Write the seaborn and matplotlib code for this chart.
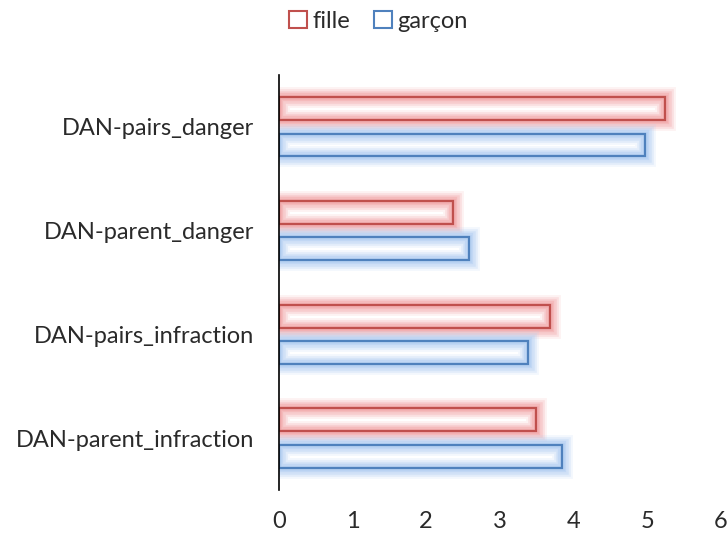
import pandas as pd
import seaborn as sns
import matplotlib.pyplot as plt
import matplotlib.patheffects as pe
from matplotlib.patches import Patch

# --- données ---
categories = ['DAN-pairs_danger', 'DAN-parent_danger', 'DAN-pairs_infraction', 'DAN-parent_infraction']
fille = [5.24, 2.37, 3.68, 3.49]
garcon = [4.97, 2.58, 3.39, 3.85]
groups = ['fille', 'garçon']

df = pd.DataFrame({
    'item': categories * 2,
    'score': fille + garcon,
    'sexe': ['fille'] * 4 + ['garçon'] * 4,
})

edge_cols = {'fille': '#C0504D', 'garçon': '#4F81BD'}
glow_cols = {'fille': '#F2A9AB', 'garçon': '#B3CFF2'}

sns.set_style('white')
plt.rcParams['font.family'] = ['Lato', 'DejaVu Sans']

fig = plt.figure(figsize=(7.28, 5.36), dpi=100)
ax = fig.add_axes([0.383, 0.086, 0.607, 0.774])

sns.barplot(data=df, y='item', x='score', hue='sexe', order=categories,
            hue_order=groups, orient='h', width=0.70, gap=0.37,
            palette={'fille': 'white', 'garçon': 'white'}, legend=False, ax=ax)

# bordure + halo (face transparente pour voir le halo intérieur)
for container, g in zip(ax.containers, groups):
    for bar in container:
        bar.set_facecolor('none')
        bar.set_edgecolor(edge_cols[g])
        bar.set_linewidth(1.6)
        bar.set_path_effects([
            pe.Stroke(linewidth=15, foreground=glow_cols[g], alpha=0.15),
            pe.Stroke(linewidth=12, foreground=glow_cols[g], alpha=0.25),
            pe.Stroke(linewidth=9, foreground=glow_cols[g], alpha=0.35),
            pe.Stroke(linewidth=6, foreground=glow_cols[g], alpha=0.5),
            pe.Stroke(linewidth=3.5, foreground=glow_cols[g], alpha=0.6),
            pe.Normal(),
        ])

ax.set_xlim(0, 6)
ax.set_ylim(3.5, -0.5)
ax.set_xticks(range(7))
ax.set_xlabel('')
ax.set_ylabel('')
for s in ['top', 'right', 'bottom']:
    ax.spines[s].set_visible(False)
ax.spines['left'].set_color('black')
ax.spines['left'].set_linewidth(1.2)
ax.tick_params(axis='both', length=0, labelsize=17, colors='#2a2a2a')
ax.tick_params(axis='y', pad=18)
ax.tick_params(axis='x', pad=15)

handles = [Patch(facecolor='white', edgecolor=edge_cols[g], linewidth=1.5, label=g) for g in groups]
fig.legend(handles=handles, loc='upper center', bbox_to_anchor=(0.52, 1.02), ncol=2,
           frameon=False, prop={'size': 17}, handlelength=0.75,
           handleheight=0.75, handletextpad=0.25, columnspacing=1.0,
           labelcolor='#2a2a2a')

plt.savefig('out.png', dpi=100)
